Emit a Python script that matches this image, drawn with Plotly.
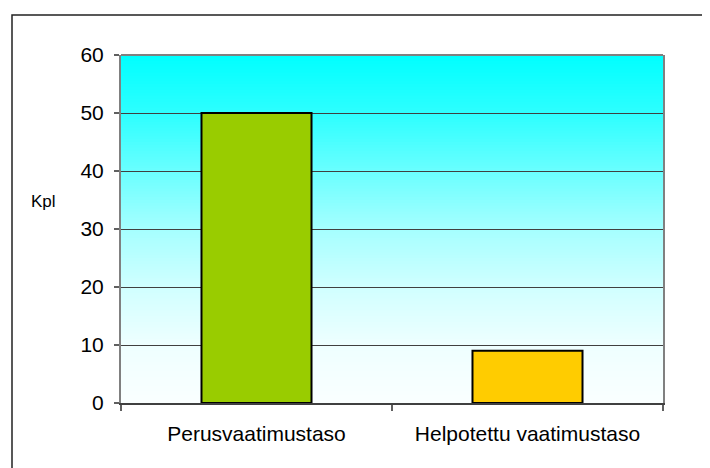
import plotly.graph_objects as go

categories = ["Perusvaatimustaso", "Helpotettu vaatimustaso"]
values = [50, 9]
bar_colors = ["#99CC00", "#FFCC00"]
y_ticks = [0, 10, 20, 30, 40, 50, 60]
y_title = "Kpl"

FONT = "Arial, Liberation Sans, sans-serif"

# page body has an 8px margin, so the figure is 8px smaller than the window
L, T, PW, PH = 113, 47, 542, 348
W, H = 702, 460

fig = go.Figure()
fig.add_trace(go.Bar(
    x=categories, y=values,
    marker=dict(color=bar_colors, line=dict(color="#000000", width=2)),
    width=0.406, hoverinfo="skip",
))

# vertical gradient background (cyan at top fading to near white)
stops = [(0.0, 250), (0.167, 238), (0.333, 208), (0.5, 165), (0.667, 105), (0.833, 45), (1.0, 0)]
def red_at(t):
    for (t0, r0), (t1, r1) in zip(stops[:-1], stops[1:]):
        if t0 <= t <= t1:
            return r0 + (r1 - r0) * (t - t0) / (t1 - t0)
    return stops[-1][1]

N = 120
shapes = []
for i in range(N):
    y0 = i / N
    y1 = (i + 1) / N
    r = int(round(red_at((y0 + y1) / 2)))
    shapes.append(dict(type="rect", xref="x domain", yref="y domain",
                       x0=0, x1=1, y0=y0, y1=y1 + 0.002,
                       fillcolor=f"rgb({r},255,255)", line=dict(width=0),
                       layer="below"))
# top border of plot area
shapes.append(dict(type="line", xref="x domain", yref="y domain", x0=0, x1=1, y0=1, y1=1,
                   line=dict(color="#808080", width=2)))
# outer chart border (pixel 4,7 in figure coordinates; runs past right/bottom edges)
bottom_px = T + PH
shapes.append(dict(type="rect", xref="paper", yref="paper",
                   x0=(4 - L) / PW, x1=(W + 10 - L) / PW,
                   y0=(bottom_px - (H + 10)) / PH, y1=(bottom_px - 7) / PH,
                   line=dict(color="#222222", width=1.5), fillcolor="rgba(0,0,0,0)"))

fig.update_layout(
    width=W, height=H,
    margin=dict(l=L, r=W - L - PW, t=T, b=H - T - PH),
    paper_bgcolor="white", plot_bgcolor="white",
    font=dict(family=FONT, size=21, color="#000000"),
    showlegend=False,
    shapes=shapes,
    bargap=0.594,
    annotations=[dict(text=y_title, xref="paper", yref="paper",
                      x=(35.5 - L) / PW, y=(bottom_px - 193) / PH,
                      showarrow=False, xanchor="center", yanchor="middle",
                      font=dict(family=FONT, size=17, color="#000000"))],
)
fig.update_xaxes(
    showgrid=False, showline=True, linecolor="#404040", linewidth=2,
    ticks="outside", tickson="boundaries", ticklen=6, tickcolor="#606060", tickwidth=1.5,
    ticklabelstandoff=11, tickfont=dict(family=FONT, size=21),
)
fig.update_yaxes(
    range=[0, 60], tickvals=y_ticks, ticktext=[str(v) for v in y_ticks],
    showgrid=True, gridcolor="#404040", gridwidth=1, zeroline=False,
    showline=True, linecolor="#808080", linewidth=2, mirror=True,
    ticks="outside", ticklen=5, tickcolor="#606060", tickwidth=1.5,
    ticklabelstandoff=6, tickfont=dict(family=FONT, size=21),
)

fig.write_html("out.html")
